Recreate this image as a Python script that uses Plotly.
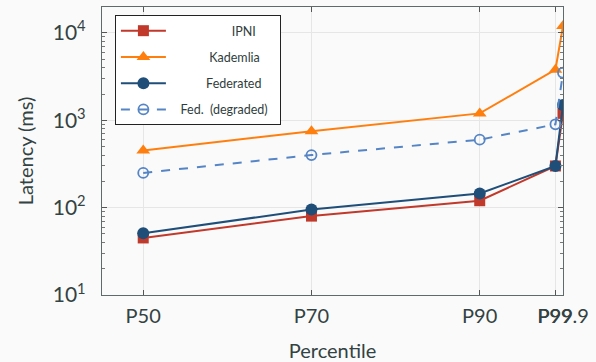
import plotly.graph_objects as go

percentiles = [50, 70, 90, 99, 99.9]
tick_labels = ["P50", "P70", "P90", "P99", "P99.9"]
ipni = [45, 80, 120, 300, 1200]
kademlia = [450, 750, 1200, 3800, 12000]
federated = [51, 95, 145, 300, 1500]
fed_degraded = [250, 400, 600, 900, 3500]

font_family = "Lato, DejaVu Sans, sans-serif"
text_color = "#2f3d3d"
axis_text = "#334242"
nb = "\u00a0"

fig = go.Figure()
fig.add_trace(go.Scatter(x=percentiles, y=ipni, name=nb * 19 + "IPNI" + nb * 5, mode="lines+markers",
                         legendgroup="a",
                         line=dict(color="#c0392b", width=2),
                         marker=dict(symbol="square", size=11, color="#c0392b")))
fig.add_trace(go.Scatter(x=percentiles, y=kademlia, name=nb * 12 + "Kademlia", mode="lines+markers",
                         legendgroup="b",
                         line=dict(color="#ff7f0e", width=2),
                         marker=dict(symbol="triangle-up", size=12, color="#ff7f0e")))
fig.add_trace(go.Scatter(x=percentiles, y=federated, name=nb * 11 + "Federated", mode="lines+markers",
                         legendgroup="c",
                         line=dict(color="#1f4e79", width=2),
                         marker=dict(symbol="circle", size=12, color="#1f4e79")))
fig.add_trace(go.Scatter(x=percentiles, y=fed_degraded, name=nb * 3 + "Fed." + nb * 2 + "(degraded)" + nb * 2, mode="lines+markers",
                         legendgroup="d",
                         line=dict(color="#5585c5", width=2, dash="dash"),
                         marker=dict(symbol="circle-open", size=10, color="#5585c5",
                                     line=dict(width=1.8, color="#5585c5"))))

fig.update_layout(
    width=596, height=362,
    margin=dict(l=102, r=33, t=7, b=67, autoexpand=False),
    paper_bgcolor="#fafafa", plot_bgcolor="#fafafa",
    font=dict(family=font_family, color=text_color),
    showlegend=True,
    legend=dict(x=0.028, y=0.972, xanchor="left", yanchor="top",
                bgcolor="white", bordercolor="#222222", borderwidth=1,
                font=dict(size=12.5, color=text_color), itemwidth=45,
                tracegroupgap=7),
)
fig.update_xaxes(
    range=[45.1, 99.9], tickvals=percentiles, ticktext=tick_labels, tickangle=0,
    automargin=False, ticklabelstandoff=3,
    ticks="inside", ticklen=5, tickcolor="#555", mirror="ticks",
    showline=True, linecolor="#5f6b6b", linewidth=1.3,
    showgrid=True, gridcolor="#e6e6e6", zeroline=False,
    tickfont=dict(size=20, color=axis_text),
    title=dict(text="Percentile", font=dict(size=20, color=axis_text), standoff=20),
)
fig.update_yaxes(
    type="log", range=[1, 4.297], automargin=False,
    tickvals=[10, 100, 1000, 10000],
    ticktext=["10<sup>1</sup>", "10<sup>2</sup>", "10<sup>3</sup>", "10<sup>4</sup>"],
    ticks="inside", ticklen=5, tickcolor="#555", mirror="ticks", ticklabelstandoff=11,
    minor=dict(ticks="inside", ticklen=3, tickcolor="#777", showgrid=False,
               tickvals=[m * 10 ** e for e in range(1, 5) for m in range(2, 10)]),
    showline=True, linecolor="#5f6b6b", linewidth=1.3,
    showgrid=True, gridcolor="#e6e6e6", zeroline=False,
    tickfont=dict(size=21, color=axis_text),
    title=dict(text="Latency (ms)", font=dict(size=20, color=axis_text), standoff=13),
)

fig.write_html("out.html", config={"displayModeBar": False},
               post_script="document.body.style.margin='0';")
